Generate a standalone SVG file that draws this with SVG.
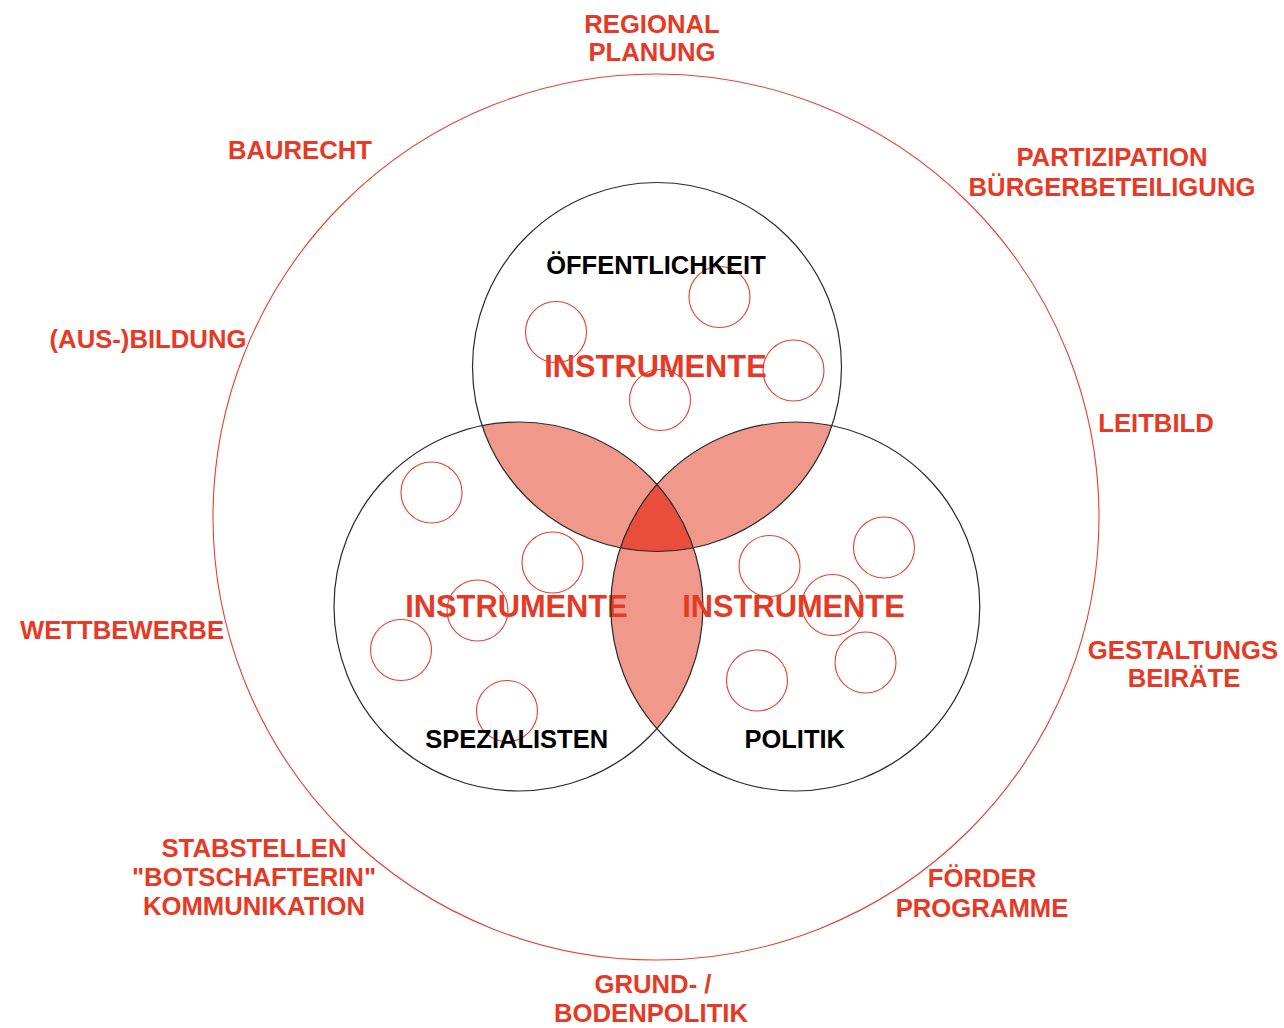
<svg xmlns="http://www.w3.org/2000/svg" width="1284" height="1028" viewBox="0 0 1284 1028">
<style>
.big{fill:none;stroke:#e8412f;stroke-width:1.1}
.set{fill:#ffffff;stroke:none}
.edge{fill:none;stroke:#2a2a2a;stroke-width:1.2}
.lens{fill:#f0998b;stroke:none}
.core{fill:#e84e3b;stroke:none}
.tool{fill:none;stroke:#e8412f;stroke-width:1.1}
.lab{font-family:"Liberation Sans",Arial,sans-serif;font-weight:bold;font-size:25.7px;fill:#e63a26;text-anchor:middle}
.ins{font-family:"Liberation Sans",Arial,sans-serif;font-weight:bold;font-size:30.8px;fill:#e63a26;text-anchor:middle}
.grp{font-family:"Liberation Sans",Arial,sans-serif;font-weight:bold;font-size:25.5px;fill:#000000;text-anchor:middle}
</style>
<defs>
<clipPath id="cT"><circle cx="657" cy="367" r="184.5"/></clipPath>
<clipPath id="cL"><circle cx="518.5" cy="606.5" r="184.5"/></clipPath>
<clipPath id="cR"><circle cx="795.3" cy="606.5" r="184.5"/></clipPath>
</defs>
<rect width="1284" height="1028" fill="#ffffff"/>
<g id="outer-ring"><circle class="big" cx="656" cy="517" r="443"/></g>
<g id="fills">
<circle class="set" cx="657" cy="367" r="184.5"/>
<circle class="set" cx="518.5" cy="606.5" r="184.5"/>
<circle class="set" cx="795.3" cy="606.5" r="184.5"/>
<circle class="lens" cx="518.5" cy="606.5" r="184.5" clip-path="url(#cT)"/>
<circle class="lens" cx="795.3" cy="606.5" r="184.5" clip-path="url(#cT)"/>
<circle class="lens" cx="795.3" cy="606.5" r="184.5" clip-path="url(#cL)"/>
<g clip-path="url(#cR)"><circle class="core" cx="518.5" cy="606.5" r="184.5" clip-path="url(#cT)"/></g>
</g>
<g id="oeffentlichkeit">
<circle class="edge" cx="657" cy="367" r="184.5"/>
<circle class="tool" cx="556" cy="332" r="30.5"/>
<circle class="tool" cx="719.5" cy="297" r="30.5"/>
<circle class="tool" cx="793.5" cy="370.5" r="30.5"/>
<circle class="tool" cx="660" cy="400" r="30.5"/>
<text class="grp" x="656" y="274">ÖFFENTLICHKEIT</text>
<text class="ins" x="655.5" y="377">INSTRUMENTE</text>
</g>
<g id="spezialisten">
<circle class="edge" cx="518.5" cy="606.5" r="184.5"/>
<circle class="tool" cx="431.5" cy="492.5" r="30.5"/>
<circle class="tool" cx="552.5" cy="562.5" r="30.5"/>
<circle class="tool" cx="477.5" cy="610.5" r="30.5"/>
<circle class="tool" cx="401" cy="650" r="30.5"/>
<circle class="tool" cx="507" cy="711" r="30.5"/>
<text class="ins" x="516.5" y="617">INSTRUMENTE</text>
<text class="grp" x="516.7" y="747.5">SPEZIALISTEN</text>
</g>
<g id="politik">
<circle class="edge" cx="795.3" cy="606.5" r="184.5"/>
<circle class="tool" cx="769.5" cy="566" r="30.5"/>
<circle class="tool" cx="884" cy="547.5" r="30.5"/>
<circle class="tool" cx="832.5" cy="605" r="30.5"/>
<circle class="tool" cx="865.5" cy="662.5" r="30.5"/>
<circle class="tool" cx="757" cy="680.5" r="30.5"/>
<text class="ins" x="793.5" y="617">INSTRUMENTE</text>
<text class="grp" x="794.7" y="747.5">POLITIK</text>
</g>
<g id="labels">
<text class="lab" x="652" y="32.5">REGIONAL</text>
<text class="lab" x="652" y="61">PLANUNG</text>
<text class="lab" x="300" y="159">BAURECHT</text>
<text class="lab" x="1112" y="166">PARTIZIPATION</text>
<text class="lab" x="1112" y="195.5">BÜRGERBETEILIGUNG</text>
<text class="lab" x="148" y="348">(AUS-)BILDUNG</text>
<text class="lab" x="1156" y="432">LEITBILD</text>
<text class="lab" x="122" y="639">WETTBEWERBE</text>
<text class="lab" x="1183" y="658.5">GESTALTUNGS</text>
<text class="lab" x="1184" y="687">BEIRÄTE</text>
<text class="lab" x="254" y="857">STABSTELLEN</text>
<text class="lab" x="254" y="886">"BOTSCHAFTERIN"</text>
<text class="lab" x="254" y="915">KOMMUNIKATION</text>
<text class="lab" x="982" y="887">FÖRDER</text>
<text class="lab" x="982" y="916.5">PROGRAMME</text>
<text class="lab" x="653" y="992.5">GRUND- /</text>
<text class="lab" x="651" y="1021.5">BODENPOLITIK</text>
</g>
</svg>
